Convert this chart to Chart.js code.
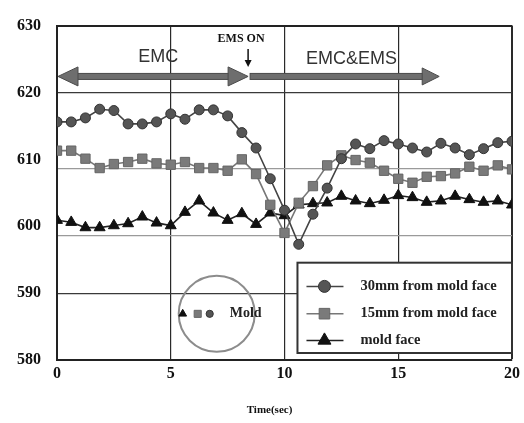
<!DOCTYPE html>
<html>
<head>
<meta charset="utf-8">
<script src="https://cdn.jsdelivr.net/npm/chart.js@4.4.1/dist/chart.umd.min.js"></script>
<style>
  html, body { margin: 0; padding: 0; background: #fff; }
  canvas { display: block; }
</style>
</head>
<body>
<canvas id="tempChart" width="524" height="423"></canvas>
<script>
// sample times (sec)
const times = [0, 0.625, 1.25, 1.875, 2.5, 3.125, 3.75, 4.375, 5, 5.625, 6.25, 6.875, 7.5, 8.125, 8.75, 9.375,
  10, 10.625, 11.25, 11.875, 12.5, 13.125, 13.75, 14.375, 15, 15.625, 16.25, 16.875, 17.5, 18.125, 18.75, 19.375, 20];

// temperatures
const from30mm = [615.6, 615.6, 616.2, 617.5, 617.3, 615.3, 615.3, 615.6, 616.8, 616.0, 617.4, 617.4, 616.5, 614.0, 611.7, 607.1,
  602.4, 597.3, 601.8, 605.7, 610.1, 612.3, 611.6, 612.8, 612.3, 611.7, 611.1, 612.4, 611.7, 610.7, 611.6, 612.5, 612.7];
const from15mm = [611.3, 611.3, 610.1, 608.7, 609.3, 609.6, 610.1, 609.4, 609.2, 609.6, 608.7, 608.7, 608.3, 610.0, 607.8, 603.2,
  599.0, 603.5, 606.0, 609.1, 610.6, 609.9, 609.5, 608.3, 607.1, 606.5, 607.4, 607.5, 607.9, 608.9, 608.3, 609.1, 608.5];
const moldFace = [600.9, 600.6, 599.8, 599.8, 600.1, 600.4, 601.4, 600.5, 600.1, 602.1, 603.8, 602.0, 600.9, 601.9, 600.3, 602.0,
  601.6, 603.2, 603.4, 603.5, 604.5, 603.8, 603.4, 603.9, 604.6, 604.3, 603.6, 603.8, 604.5, 604.0, 603.6, 603.8, 603.2];

const seriesLabels = ['30mm from mold face', '15mm from mold face', 'mold face'];
const xTicks = [0, 5, 10, 15, 20];
const yTicks = [580, 590, 600, 610, 620, 630];
// the two faint horizontal rules in the original sit a little below 600 / 610
const faintRules = [598.6, 608.6];

const SERIF = '"Liberation Serif", "Times New Roman", serif';
const SANS = '"Liberation Sans", Arial, sans-serif';

const pts = vals => times.map((t, i) => ({ x: t, y: vals[i] }));

const styles = [
  { style: 'circle', radius: 5, fill: '#555', stroke: '#333', line: '#444' },
  { style: 'rect', radius: 6.6, fill: '#7a7a7a', stroke: '#666', line: '#777' },
  { style: 'triangle', radius: 6.3, fill: '#111', stroke: '#111', line: '#222' }
];

function marker(ctx, kind, x, y, r, fill, stroke) {
  ctx.beginPath();
  if (kind === 'circle') {
    ctx.arc(x, y, r, 0, Math.PI * 2);
  } else if (kind === 'rect') {
    const s = r * Math.SQRT1_2;
    ctx.rect(x - s, y - s, 2 * s, 2 * s);
  } else {
    ctx.moveTo(x, y - r);
    ctx.lineTo(x + r * 0.866, y + r * 0.5);
    ctx.lineTo(x - r * 0.866, y + r * 0.5);
    ctx.closePath();
  }
  ctx.fillStyle = fill;
  ctx.fill();
  ctx.lineWidth = 1;
  ctx.strokeStyle = stroke;
  ctx.stroke();
}

function arrowHead(ctx, tipX, tipY, dir, len, half) {
  ctx.beginPath();
  ctx.moveTo(tipX, tipY);
  ctx.lineTo(tipX - dir * len, tipY - half);
  ctx.lineTo(tipX - dir * len, tipY + half);
  ctx.closePath();
  ctx.fill();
  ctx.stroke();
}

// arrows, text notes, circle note and the boxed legend
const overlay = {
  id: 'overlay',
  afterDatasetsDraw(chart) {
    const { ctx, chartArea: a, scales: { x, y } } = chart;
    ctx.save();

    // EMC double arrow
    const ay = y.getPixelForValue(622.4);
    const x0 = x.getPixelForValue(0) + 1;
    const xOn = x.getPixelForValue(8.4);
    ctx.fillStyle = '#6e6e6e';
    ctx.strokeStyle = '#4a4a4a';
    ctx.lineWidth = 1;
    ctx.fillRect(x0 + 18, ay - 3, xOn - x0 - 36, 6);
    ctx.strokeRect(x0 + 18, ay - 3, xOn - x0 - 36, 6);
    arrowHead(ctx, x0, ay, -1, 20, 9.5);
    arrowHead(ctx, xOn, ay, 1, 20, 9.5);

    // EMC&EMS arrow
    const xEnd = x.getPixelForValue(16.8);
    ctx.fillRect(xOn + 2, ay - 3, xEnd - xOn - 18, 6);
    ctx.strokeRect(xOn + 2, ay - 3, xEnd - xOn - 18, 6);
    arrowHead(ctx, xEnd, ay, 1, 17, 8.5);

    ctx.fillStyle = '#333';
    ctx.font = '18px ' + SANS;
    ctx.textAlign = 'center';
    ctx.textBaseline = 'middle';
    ctx.fillText('EMC', x.getPixelForValue(4.45), y.getPixelForValue(625.3));
    ctx.fillText('EMC&EMS', x.getPixelForValue(12.95), y.getPixelForValue(625.0));

    // EMS ON note with small down arrow
    ctx.fillStyle = '#111';
    ctx.font = 'bold 12px ' + SERIF;
    ctx.fillText('EMS ON', xOn - 7, y.getPixelForValue(628.0));
    ctx.strokeStyle = '#111';
    ctx.lineWidth = 1.5;
    ctx.beginPath();
    ctx.moveTo(xOn, y.getPixelForValue(626.5));
    ctx.lineTo(xOn, y.getPixelForValue(623.8) - 5);
    ctx.stroke();
    ctx.beginPath();
    ctx.moveTo(xOn, y.getPixelForValue(623.8));
    ctx.lineTo(xOn - 3.5, y.getPixelForValue(623.8) - 7);
    ctx.lineTo(xOn + 3.5, y.getPixelForValue(623.8) - 7);
    ctx.closePath();
    ctx.fill();

    // mold circle note
    const cx = x.getPixelForValue(7.02);
    const cy = y.getPixelForValue(586.9);
    ctx.strokeStyle = '#8c8c8c';
    ctx.lineWidth = 2;
    ctx.beginPath();
    ctx.arc(cx, cy, 38, 0, Math.PI * 2);
    ctx.stroke();
    marker(ctx, 'triangle', cx - 34, cy, 4.5, '#111', '#111');
    marker(ctx, 'rect', cx - 19, cy, 5, '#7a7a7a', '#666');
    marker(ctx, 'circle', cx - 7, cy, 3.6, '#555', '#333');
    ctx.fillStyle = '#222';
    ctx.font = 'bold 14px ' + SERIF;
    ctx.textAlign = 'left';
    ctx.fillText('Mold', cx + 13, cy);

    // legend box
    const lx = x.getPixelForValue(10.57);
    const ly = y.getPixelForValue(594.55);
    const lw = a.right - lx;
    const lh = a.bottom - 7 - ly;
    ctx.fillStyle = '#fff';
    ctx.fillRect(lx, ly, lw, lh);
    ctx.strokeStyle = '#333';
    ctx.lineWidth = 2;
    ctx.strokeRect(lx, ly, lw, lh);
    const rowY = [23.7, 51, 77.7];
    ctx.font = 'bold 14.5px ' + SERIF;
    seriesLabels.forEach((label, i) => {
      const s = styles[i];
      const ry = ly + rowY[i];
      ctx.strokeStyle = s.line;
      ctx.lineWidth = 1.5;
      ctx.beginPath();
      ctx.moveTo(lx + 9, ry);
      ctx.lineTo(lx + 46, ry);
      ctx.stroke();
      marker(ctx, s.style, lx + 27, ry, s.style === 'circle' ? 6 : 7.5, s.fill, s.stroke);
      ctx.fillStyle = '#222';
      ctx.fillText(label, lx + 63, ry);
    });

    // x axis title
    ctx.font = 'bold 11px ' + SERIF;
    ctx.textAlign = 'center';
    ctx.fillStyle = '#111';
    ctx.fillText('Time(sec)', (a.left + a.right) / 2 - 15, 410);

    ctx.restore();
  }
};

const datasets = [from30mm, from15mm, moldFace].map((vals, i) => ({
  label: seriesLabels[i],
  data: pts(vals),
  borderColor: styles[i].line,
  borderWidth: 1.6,
  pointStyle: styles[i].style,
  pointRadius: styles[i].radius,
  pointBackgroundColor: styles[i].fill,
  pointBorderColor: styles[i].stroke,
  pointBorderWidth: 1,
  tension: 0
}));

new Chart(document.getElementById('tempChart'), {
  type: 'line',
  data: { datasets: datasets },
  options: {
    responsive: false,
    animation: false,
    layout: { padding: { top: 13, right: 11, left: 0, bottom: 0 } },
    plugins: { legend: { display: false }, tooltip: { enabled: false } },
    scales: {
      x: {
        type: 'linear',
        min: 0,
        max: 20,
        afterFit: s => { s.height = 63; },
        afterBuildTicks: s => { s.ticks = xTicks.map(v => ({ value: v })); },
        grid: {
          drawTicks: false,
          color: c => c.tick && c.tick.value === 0 ? 'rgba(0,0,0,0)' : '#2a2a2a',
          lineWidth: c => c.tick && c.tick.value === 20 ? 2 : 1.2
        },
        border: { display: true, color: '#222', width: 2 },
        ticks: { padding: 4, color: '#111', font: { family: SERIF, size: 16, weight: 'bold' } }
      },
      y: {
        min: 580,
        max: 630,
        afterFit: s => { s.width = 57; },
        afterBuildTicks: s => { s.ticks = yTicks.map(v => ({ value: v })); },
        grid: {
          drawTicks: false,
          color: c => {
            const v = c.tick && c.tick.value;
            if (v === 600 || v === 610 || v === 580) return 'rgba(0,0,0,0)';
            return v === 630 ? '#222' : '#3a3a3a';
          },
          lineWidth: c => c.tick && c.tick.value === 630 ? 2 : 1.2
        },
        border: { display: true, color: '#222', width: 2 },
        ticks: { padding: 16, color: '#111', font: { family: SERIF, size: 16, weight: 'bold' } }
      },
      yRules: {
        position: 'left',
        min: 580,
        max: 630,
        afterFit: s => { s.width = 0; },
        afterBuildTicks: s => { s.ticks = faintRules.map(v => ({ value: v })); },
        grid: { drawTicks: false, color: '#9a9a9a', lineWidth: 1.2 },
        border: { display: false },
        ticks: { display: false }
      }
    }
  },
  plugins: [overlay]
});
</script>
</body>
</html>
